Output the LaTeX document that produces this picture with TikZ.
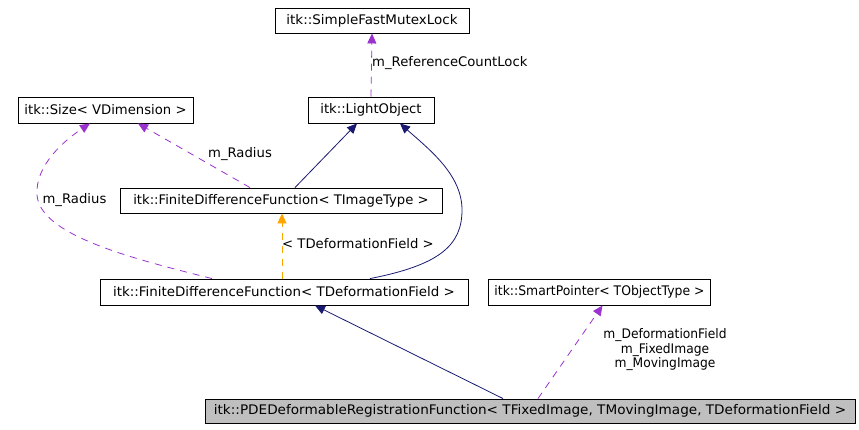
\documentclass[tikz,border=0pt]{standalone}
\usepackage{fontspec}
\usepackage{graphicx}
\setmainfont{DejaVu Sans}
\usetikzlibrary{arrows.meta,calc}
\definecolor{navyedge}{HTML}{191970}
\definecolor{purpleedge}{HTML}{9A32CD}
\definecolor{orangeedge}{HTML}{FFA500}
\definecolor{grayfill}{HTML}{BFBFBF}
\newcommand{\hsq}[2]{\scalebox{#1}[1]{#2}}
\tikzset{
  cls/.style={draw=black, line width=0.9pt, inner sep=0pt, font=\fontsize{13.2}{15}\selectfont},
  inh/.style={draw=navyedge, line width=0.8pt, -{Triangle[length=10pt,width=9pt]}},
  use/.style={draw=purpleedge, line width=0.8pt, dash pattern=on 7pt off 6pt, -{Triangle[length=10pt,width=9pt]}},
  tmpl/.style={draw=orangeedge, line width=0.8pt, dash pattern=on 7pt off 6pt, -{Triangle[length=10pt,width=9pt]}},
  lbl/.style={inner sep=0pt, font=\fontsize{13.2}{14.5}\selectfont},
}
\begin{document}
\begin{tikzpicture}[x=1pt,y=-1pt]
\useasboundingbox (0,0) rectangle (859,429);
\node[cls, minimum width=194pt, minimum height=25pt] (sfml) at (372,20.5) {\hsq{1.02}{itk::SimpleFastMutexLock}};
\node[cls, minimum width=126pt, minimum height=26pt] (light) at (371,110) {itk::LightObject};
\node[cls, minimum width=175pt, minimum height=26pt] (size) at (105.5,110) {itk::Size< VDimension >};
\node[cls, minimum width=322pt, minimum height=25pt] (fdfi) at (281,200.5) {itk::FiniteDifferenceFunction< TImageType >};
\node[cls, minimum width=368pt, minimum height=26pt] (fdfd) at (284,292) {\hsq{1.015}{itk::FiniteDifferenceFunction< TDeformationField >}};
\node[cls, minimum width=222pt, minimum height=26pt] (smart) at (599.5,292) {\hsq{0.94}{itk::SmartPointer< TObjectType >}};
\node[cls, fill=grayfill, minimum width=650pt, minimum height=24pt] (pde) at (530,411) {\hsq{1.03}{itk::PDEDeformableRegistrationFunction< TFixedImage, TMovingImage, TDeformationField >}};

% LightObject -> SimpleFastMutexLock
\draw[use] (light.north) -- (sfml.south);
\node[lbl, anchor=west] (l1) at (372,63) {m\_ReferenceCountLock};

% FDF<TImageType> -> LightObject
\draw[inh] ($(fdfi.north)+(14,0)$) -- ($(light.south)+(-14,0)$);
% FDF<TDeformationField> -> LightObject
\draw[inh] ($(fdfd.north)+(86,0)$) .. controls (440,265) and (462,245) .. (462,210)
  .. controls (462,175) and (430,150) .. ($(light.south)+(29,0)$);

% FDF<TImageType> -> Size
\draw[use] ($(fdfi.north)+(-31,0)$) -- ($(size.south)+(32.5,0)$);
\node[lbl] (l2) at (240,154) {m\_Radius};
% FDF<TDeformationField> -> Size
\draw[use] ($(fdfd.north)+(-72,0)$) .. controls (130,258) and (40,235) .. (37,195)
  .. controls (35,165) and (65,140) .. ($(size.south)+(-15.5,0)$);
\node[lbl] (l3) at (74.5,200) {m\_Radius};

% FDF<TDeformationField> -> FDF<TImageType>
\draw[tmpl] ($(fdfd.north)+(-2,0)$) -- ($(fdfi.south)+(1,0)$);
\node[lbl, anchor=west] (l4) at (282,244) {< TDeformationField >};

% PDE -> FDF<TDeformationField>
\draw[inh] ($(pde.north)+(-27,0)$) -- ($(fdfd.south)+(31,0)$);
% PDE -> SmartPointer
\draw[use] ($(pde.north)+(8,0)$) -- ($(smart.south)+(3,0)$);
\node[lbl, align=center] (l5) at (665,350) {\hsq{0.93}{m\_DeformationField}\\\hsq{0.93}{m\_FixedImage}\\\hsq{0.93}{m\_MovingImage}};
\end{tikzpicture}
\end{document}
